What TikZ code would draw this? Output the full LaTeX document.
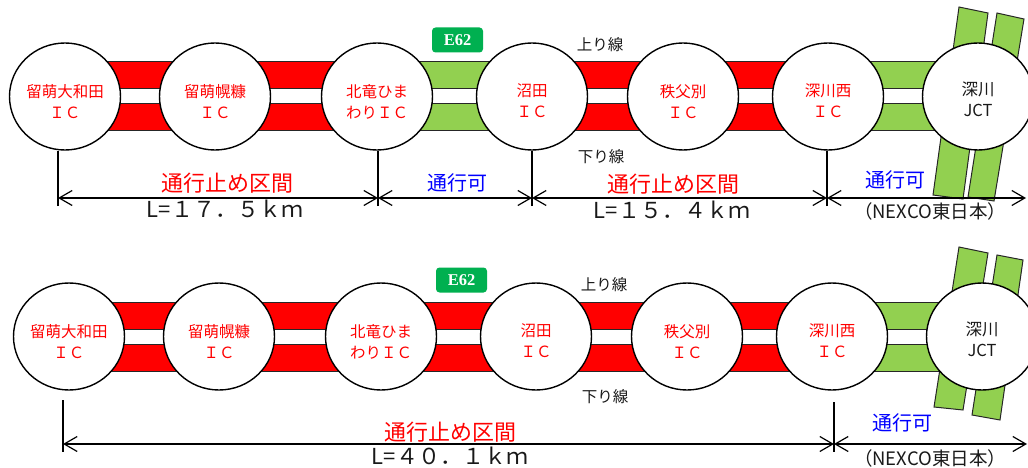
\documentclass[tikz,border=0pt]{standalone}
\usepackage{fontspec}
\setmainfont{Noto Sans CJK JP}
\newfontfamily\badgefont{Liberation Serif}
\usetikzlibrary{shapes.geometric,arrows.meta,calc}
\definecolor{roadred}{HTML}{FF0000}
\definecolor{roadgreen}{HTML}{92D050}
\definecolor{badgegreen}{HTML}{00B050}
\definecolor{txtred}{HTML}{FF0000}
\definecolor{txtblue}{HTML}{0000FF}
\definecolor{edge}{HTML}{262626}
\tikzset{
  band/.style={draw=edge,line width=1pt},
  jctbar/.style={draw=edge,line width=1pt,fill=roadgreen},
  ic/.style={ellipse,draw=black,line width=1.4pt,fill=white,minimum width=111pt,minimum height=107pt,inner sep=0pt},
  ictext/.style={text=txtred,font=\fontsize{15.5}{21}\selectfont,align=center,inner sep=0pt},
  lane/.style={text=black!90,font=\fontsize{15.5}{15.5}\selectfont,inner sep=0pt},
  badge/.style={fill=badgegreen,rounded corners=3.5pt,minimum width=51pt,minimum height=25pt,inner sep=0pt,text=white,font=\badgefont\bfseries\fontsize{16.5}{16.5}\selectfont},
  redlbl/.style={text=txtred,font=\fontsize{22}{22}\selectfont,inner sep=0pt},
  bluelbl/.style={text=txtblue,font=\fontsize{20}{20}\selectfont,inner sep=0pt},
  lenlbl/.style={text=black!90,font=\fontsize{22}{22}\selectfont,inner sep=0pt},
  nexlbl/.style={text=black!90,font=\fontsize{18.5}{18.5}\selectfont,inner sep=0pt},
  dimline/.style={line width=1.2pt,{Straight Barb[length=13pt,width=15pt]}-{Straight Barb[length=13pt,width=15pt]}},
  tickline/.style={line width=2pt}
}
\newcommand\hwrow[4]{%
\begin{scope}[shift={(#2,#3)}]
  \foreach \n/\x in {1/65,2/215,3/377,4/532,5/683,6/828,7/978} {\coordinate (#1c\n) at (\x,96.5);}
  \foreach \a/\b/\col in {1/2/roadred,2/3/roadred,3/4/#4,4/5/roadred,5/6/roadred,6/7/roadgreen} {
    \draw[band,fill=\col] ($(#1c\a)+(0,-34.5)$) rectangle ($(#1c\b)+(0,-7.5)$);
    \draw[band,fill=\col] ($(#1c\a)+(0,7.5)$) rectangle ($(#1c\b)+(0,34.5)$);
  }
  \foreach \n in {1,...,7} {\node[ic] (#1n\n) at (#1c\n) {};}
  \node[ictext] (#1t1) at ($(#1c1)+(0,5)$) {留萌大和田\\ＩＣ};
  \node[ictext] (#1t2) at ($(#1c2)+(0,5)$) {留萌幌糠\\ＩＣ};
  \node[ictext] (#1t3) at ($(#1c3)+(0,5)$) {北竜ひま\\わりＩＣ};
  \node[ictext] (#1t4) at ($(#1c4)+(0,4)$) {沼田\\ＩＣ};
  \node[ictext] (#1t5) at ($(#1c5)+(0,5)$) {秩父別\\ＩＣ};
  \node[ictext] (#1t6) at ($(#1c6)+(0,4)$) {深川西\\ＩＣ};
  \node[ictext,text=black!90,font=\fontsize{16.5}{21}\selectfont] (#1t7) at ($(#1c7)+(0,3)$) {深川\\JCT};
  \node[badge] (#1e) at (457.5,40) {E62};
  \node[lane] (#1up) at (600,45) {上り線};
  \node[lane] (#1dn) at (601,157) {下り線};
\end{scope}}
\begin{document}
\begin{tikzpicture}[x=1pt,y=-1pt]
\useasboundingbox (0,0) rectangle (1028,468);
% JCT crossing roads (top row)
\draw[jctbar] (959,7) -- (988,13) -- (963,199) -- (933,195) -- cycle;
\draw[jctbar] (997,13) -- (1024,19) -- (994,201) -- (968,197) -- cycle;
% JCT crossing roads (bottom row)
\draw[jctbar] (959,247) -- (988,253) -- (963,410) -- (934,407) -- cycle;
\draw[jctbar] (997,255) -- (1023,260) -- (1000,420) -- (972,415) -- cycle;
% rows
\hwrow{A}{0}{0}{roadgreen}
\hwrow{B}{4}{240}{roadred}
% top dimensions
\coordinate (a1) at (58,198);
\coordinate (a2) at (378,198);
\coordinate (a3) at (532,198);
\coordinate (a4) at (827,198);
\coordinate (a5) at (1026,198);
\coordinate (k1) at (58,206);
\coordinate (k2) at (378,206);
\coordinate (k3) at (532,206);
\coordinate (k4) at (827,206);
\draw[tickline] (k1) -- (k1 |- An1.south);
\draw[tickline] (k2) -- (k2 |- An3.south);
\draw[tickline] (k3) -- (k3 |- An4.south);
\draw[tickline] (k4) -- (k4 |- An6.south);
\draw[dimline] (a1) -- (a2);
\draw[dimline] (a2) -- (a3);
\draw[dimline] (a3) -- (a4);
\draw[dimline] (a4) -- (a5);
\node[redlbl] (r1) at (227,183) {通行止め区間};
\node[lenlbl] (l1) at (225,209) {L=１７．５ｋｍ};
\node[bluelbl] (g1) at (457,183) {通行可};
\node[redlbl] (r2) at (673,184) {通行止め区間};
\node[lenlbl] (l2) at (672,210) {L=１５．４ｋｍ};
\node[bluelbl] (g2) at (895,180) {通行可};
\node[nexlbl] (x1) at (930,211) {（NEXCO東日本）};
% bottom dimensions
\coordinate (b1) at (63,444);
\coordinate (b2) at (834,444);
\coordinate (b3) at (1027,444);
\coordinate (m1a) at (63,400);
\coordinate (m1b) at (63,452);
\coordinate (m2a) at (834,402);
\coordinate (m2b) at (834,452);
\draw[tickline] (m1a) -- (m1b);
\draw[tickline] (m2a) -- (m2b);
\draw[dimline] (b1) -- (b2);
\draw[dimline] (b2) -- (b3);
\node[redlbl] (r3) at (450,432) {通行止め区間};
\node[lenlbl] (l3) at (450,456) {L=４０．１ｋｍ};
\node[bluelbl] (g3) at (902,423) {通行可};
\node[nexlbl] (x2) at (930,458) {（NEXCO東日本）};
\end{tikzpicture}
\end{document}
